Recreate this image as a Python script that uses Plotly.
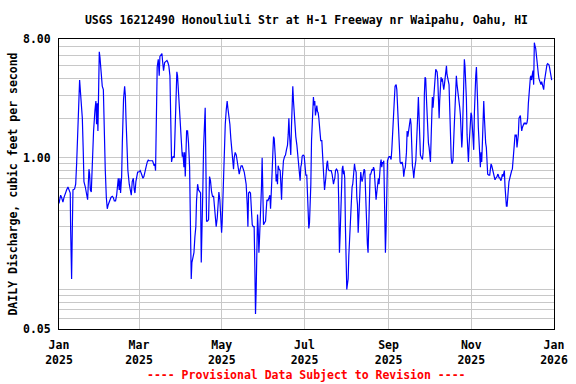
import math
import pandas as pd
import plotly.graph_objects as go

# ---- daily discharge readings (day offset from 2025-01-01, cubic feet per second) ----
days_jan_mar = [
    0.0, 1.2, 1.9, 2.9, 3.7, 4.6, 5.6, 6.6, 7.6, 8.3,
    8.6, 9.3, 9.8, 10.3, 11.5, 12.3, 13.0, 14.0, 14.7, 15.2,
    15.7, 16.4, 17.2, 17.9, 18.4, 19.4, 20.4, 21.1, 21.6, 22.1,
    22.6, 23.1, 23.8, 24.1, 24.8, 25.5, 26.5, 27.2, 27.7, 28.2,
    28.7, 29.2, 29.7, 30.2, 30.9, 31.9, 32.7, 33.1, 34.1, 34.9,
    35.6, 36.3, 37.3, 38.3, 39.3, 40.0, 40.8, 41.7, 42.5, 43.2,
    43.7, 44.4, 44.9, 45.4, 46.2, 46.7, 47.1, 47.6, 48.4, 48.9,
    49.4, 50.1, 50.8, 51.8, 52.6, 53.3, 54.0, 54.8, 55.5, 56.0,
    56.7, 57.2, 58.0, 58.9, 59.9, 60.9, 61.9, 62.6, 63.6, 64.3,
    65.1, 65.8, 66.5, 67.3, 68.0, 69.0, 70.2, 70.7, 71.2, 71.5,
    72.0,
]
cfs_jan_mar = [
    0.45, 0.52, 0.50, 0.46, 0.50, 0.54, 0.57, 0.60, 0.57, 0.54,
    0.28, 0.12, 0.28, 0.57, 0.58, 0.63, 0.90, 1.5, 2.8, 3.9,
    3.3, 2.8, 2.0, 1.1, 0.66, 0.60, 0.54, 0.48, 0.63, 0.82,
    0.75, 0.57, 0.55, 0.67, 1.05, 1.6, 2.3, 2.7, 1.8, 2.6,
    1.6, 5.1, 6.4, 5.8, 4.8, 3.5, 3.3, 2.0, 0.82, 0.50,
    0.41, 0.44, 0.47, 0.50, 0.51, 0.50, 0.47, 0.47, 0.52, 0.63,
    0.70, 0.57, 0.70, 0.54, 0.72, 1.3, 2.1, 2.8, 3.5, 3.0,
    2.0, 1.2, 0.80, 0.63, 0.57, 0.52, 0.66, 0.70, 0.57, 0.54,
    0.66, 0.70, 0.78, 0.78, 0.80, 0.75, 0.70, 0.72, 0.78, 0.86,
    0.93, 0.96, 0.95, 0.95, 0.95, 0.95, 0.87, 0.90, 0.80, 1.5,
    3.4,
]

days_mar_may = [
    72.4, 73.2, 73.9, 74.4, 75.2, 75.9, 76.4, 77.1, 77.9, 78.8,
    79.6, 80.3, 81.0, 81.8, 82.3, 83.0, 83.5, 84.2, 85.0, 85.7,
    86.5, 86.9, 87.4, 87.9, 88.7, 89.4, 90.1, 90.9, 91.4, 92.1,
    92.6, 93.1, 93.6, 94.1, 94.8, 95.5, 96.3, 97.0, 97.5, 98.0,
    98.7, 99.5, 100.2, 100.9, 101.4, 102.2, 102.9, 103.6, 104.4, 104.9,
    105.4, 106.1, 106.6, 107.3, 107.8, 108.3, 108.8, 109.5, 110.3, 111.0,
    111.7, 112.5, 113.2, 114.0, 114.7, 115.4, 115.9, 116.7, 117.4, 117.9,
    118.6, 119.4, 119.9, 120.3, 121.1, 121.8, 122.6, 123.3, 124.0, 124.5,
    125.3, 126.0, 126.7, 127.5, 128.2, 128.7, 129.2, 129.9, 130.7, 131.4,
    132.1, 132.9, 133.6, 134.3, 135.1, 135.8, 136.6, 137.3, 138.0, 138.8,
    139.3, 139.8, 140.5, 141.2, 142.0, 142.5, 143.2, 143.9, 144.4,
]
cfs_mar_may = [
    4.9, 5.6, 4.2, 5.9, 6.1, 6.2, 5.4, 4.6, 5.3, 5.4,
    5.5, 5.3, 5.0, 4.2, 1.9, 0.93, 1.0, 1.02, 1.0, 2.0,
    3.5, 4.5, 4.2, 3.5, 2.8, 2.1, 1.4, 1.02, 1.1, 0.85,
    1.1, 0.72, 1.1, 1.6, 1.6, 1.3, 0.85, 0.27, 0.12, 0.16,
    0.18, 0.19, 0.25, 0.30, 0.47, 0.63, 0.57, 0.55, 0.54, 0.16,
    0.25, 0.60, 1.2, 2.3, 2.4, 0.9, 0.33, 0.33, 0.34, 0.72,
    0.67, 0.55, 0.51, 0.51, 0.43, 0.33, 0.30, 0.35, 0.50, 0.55,
    0.48, 0.33, 0.27, 0.32, 0.60, 1.1, 1.8, 2.3, 2.7, 2.4,
    2.1, 1.8, 1.4, 1.15, 0.93, 0.82, 1.0, 1.1, 1.05, 0.95,
    0.82, 0.75, 0.82, 0.87, 0.87, 0.82, 0.78, 0.70, 0.63, 0.44,
    0.30, 0.54, 0.55, 0.54, 0.41, 0.31, 0.30, 0.30, 0.15,
]

days_may_aug = [
    144.9, 145.4, 145.9, 146.4, 146.9, 147.4, 147.9, 148.3, 148.8, 149.3,
    149.8, 150.3, 150.8, 151.5, 152.3, 152.8, 153.3, 154.0, 154.7, 155.5,
    156.0, 156.4, 156.9, 157.7, 158.2, 158.7, 159.2, 159.6, 160.1, 160.6,
    161.1, 161.6, 162.3, 163.1, 163.6, 164.1, 164.6, 165.0, 165.5, 166.3,
    167.0, 167.7, 168.5, 169.0, 169.5, 170.0, 170.5, 170.9, 171.4, 171.9,
    172.4, 172.9, 173.4, 173.9, 174.6, 175.4, 176.1, 176.6, 177.3, 177.8,
    178.3, 178.8, 179.3, 180.0, 180.8, 181.3, 182.0, 182.7, 183.2, 183.7,
    184.2, 184.7, 185.2, 185.7, 186.2, 186.7, 187.2, 187.6, 188.1, 188.6,
    189.1, 189.6, 190.1, 190.6, 191.1, 191.6, 192.3, 193.0, 193.8, 194.3,
    194.8, 195.3, 195.8, 196.2, 196.7, 197.5, 198.0, 198.5, 199.2, 199.9,
    200.7, 201.4, 201.9, 202.4, 202.9, 203.4, 203.9, 204.6, 205.3, 205.8,
    206.3, 206.8, 207.3, 207.8, 208.3, 208.8, 209.3, 209.8, 210.2, 210.7,
    211.2, 211.7, 212.2, 212.7, 213.2, 213.7, 214.4, 215.2,
]
cfs_may_aug = [
    0.065, 0.10, 0.25, 0.37, 0.29, 0.19, 0.25, 0.30, 0.44, 0.60,
    1.0, 0.54, 0.31, 0.32, 0.33, 0.40, 0.48, 0.47, 0.50, 0.52,
    0.41, 0.47, 0.67, 1.1, 1.45, 1.4, 1.2, 0.98, 0.66, 0.75,
    0.63, 0.87, 0.82, 0.80, 0.63, 0.48, 0.68, 0.82, 0.95, 1.02,
    1.05, 1.15, 1.25, 1.5, 2.0, 1.5, 1.3, 1.05, 1.7, 2.7,
    3.5, 2.7, 2.1, 1.8, 1.45, 1.25, 1.02, 0.87, 0.82, 0.67,
    0.85, 0.90, 1.03, 1.05, 1.03, 0.85, 0.74, 0.74, 0.47, 0.35,
    0.29, 0.32, 0.41, 0.63, 1.35, 2.0, 2.7, 2.9, 2.5, 2.7,
    2.1, 2.3, 2.5, 2.25, 2.2, 2.0, 1.5, 1.35, 1.35, 1.0,
    0.93, 0.70, 0.57, 0.61, 0.70, 0.90, 0.95, 0.82, 0.80, 0.80,
    0.80, 0.75, 0.67, 0.63, 0.67, 0.70, 0.80, 0.82, 0.80, 0.75,
    0.44, 0.19, 0.26, 0.44, 0.75, 0.82, 0.87, 0.75, 0.80, 0.70,
    0.30, 0.13, 0.10, 0.11, 0.12, 0.18, 0.27, 0.37,
]

days_aug_oct = [
    216.1, 216.6, 217.1, 217.9, 218.4, 219.1, 219.6, 220.1, 220.6, 221.1,
    221.5, 222.0, 222.5, 223.0, 223.5, 224.0, 224.5, 225.0, 225.5, 226.0,
    226.5, 227.0, 227.4, 227.9, 228.4, 228.9, 229.4, 229.9, 230.4, 230.9,
    231.4, 231.9, 232.4, 232.8, 233.3, 233.8, 234.3, 235.1, 235.5, 236.0,
    236.5, 237.0, 237.5, 238.0, 238.5, 239.0, 239.5, 240.0, 240.5, 240.7,
    241.2, 241.7, 242.2, 242.9, 243.4, 244.1, 244.9, 245.4, 245.9, 246.4,
    246.8, 247.3, 247.8, 248.6, 249.1, 249.5, 250.0, 250.5, 251.0, 251.5,
    252.3, 253.0, 253.7, 254.2, 254.7, 255.4, 256.2, 256.7, 257.2, 257.7,
    258.1, 258.6, 259.1, 259.6, 260.1, 260.6, 261.1, 261.6, 262.1, 262.6,
    263.1, 263.6, 264.0, 264.5, 265.0, 265.5, 266.0, 266.5, 267.0, 267.5,
    268.0, 268.5, 269.0, 269.4, 269.9, 270.4, 270.9, 271.4, 271.9, 272.4,
    272.9, 273.4, 273.9, 274.4, 274.9, 275.3, 275.8, 276.3, 276.8, 277.3,
    277.8, 278.3, 278.8, 279.3, 279.8, 280.3, 280.7, 281.2, 281.7, 282.2,
    282.7, 283.2, 283.7, 284.2, 284.7, 285.2, 285.7, 286.1, 286.6, 287.1,
    287.6, 288.1, 288.6, 289.2, 289.8, 290.5, 291.3,
]
cfs_aug_oct = [
    0.60, 0.63, 0.75, 0.90, 0.82, 0.78, 0.50, 0.44, 0.27, 0.33,
    0.44, 0.60, 0.78, 0.70, 0.66, 0.70, 0.78, 0.82, 0.80, 0.50,
    0.39, 0.27, 0.22, 0.19, 0.33, 0.52, 0.75, 0.75, 0.80, 0.82,
    0.80, 0.85, 0.82, 0.70, 0.60, 0.48, 0.54, 0.63, 0.70, 0.63,
    0.80, 0.90, 0.97, 0.85, 0.93, 0.90, 0.95, 0.47, 0.35, 0.19,
    0.29, 0.63, 0.95, 1.0, 1.02, 1.02, 0.97, 1.15, 1.4, 1.6,
    2.0, 2.8, 3.5, 3.6, 3.3, 2.6, 2.0, 1.4, 1.02, 0.93,
    0.90, 0.93, 0.85, 0.72, 0.80, 0.85, 1.1, 1.6, 1.45, 1.6,
    1.7, 1.9, 2.0, 1.8, 1.1, 0.87, 0.80, 0.70, 0.80, 0.90,
    0.95, 1.25, 1.9, 2.1, 2.9, 1.7, 1.15, 1.05, 1.02, 0.97,
    0.97, 1.1, 1.5, 3.0, 4.1, 4.0, 2.9, 2.0, 1.5, 1.3,
    1.2, 1.02, 0.93, 1.4, 2.1, 2.9, 2.4, 2.9, 3.6, 4.6,
    4.7, 4.6, 4.5, 3.9, 2.6, 2.0, 2.7, 3.6, 4.1, 3.8,
    4.0, 3.6, 3.3, 3.6, 4.1, 4.6, 5.0, 4.3, 4.1, 3.9,
    3.6, 2.4, 1.35, 1.0, 0.9, 0.95, 1.6,
]

days_oct_dec = [
    292.0, 292.5, 293.0, 293.5, 294.0, 294.5, 295.0, 295.5, 296.0, 296.5,
    297.0, 297.4, 297.9, 298.4, 298.9, 299.4, 299.9, 300.4, 300.9, 301.4,
    301.9, 302.4, 302.9, 303.3, 303.8, 304.3, 304.8, 305.3, 305.8, 306.3,
    306.8, 307.3, 307.8, 308.3, 308.7, 309.2, 309.7, 310.2, 310.7, 311.2,
    311.7, 312.2, 312.7, 313.2, 313.7, 314.2, 314.6, 315.1, 315.6, 316.1,
    316.9, 317.6, 318.1, 318.6, 319.1, 319.6, 320.0, 320.5, 321.0, 321.5,
    322.0, 322.5, 323.0, 323.5, 324.0, 324.5, 325.0, 325.5, 325.9, 326.4,
    326.9, 327.4, 327.9, 328.4, 328.9, 329.4, 329.9, 330.4, 330.9, 331.3,
    331.8, 332.3, 332.8, 333.3, 333.8, 334.3, 334.8, 335.3, 335.8, 336.3,
    336.8, 337.2, 337.7, 338.2, 338.7, 339.2, 339.7, 340.2, 340.7, 341.2,
    341.7, 342.2, 342.6, 343.1, 343.6, 344.1, 344.6, 345.1, 345.6, 346.1,
    346.6, 347.1, 347.6, 348.1, 348.5, 349.0, 349.5, 350.0, 350.5, 351.0,
    351.5, 352.0, 352.5, 353.0, 353.5, 353.9, 354.4, 354.9, 355.4, 355.9,
    356.4, 356.9, 357.4, 357.9, 358.4, 358.9, 359.4, 359.8, 360.3, 360.8,
    361.3, 361.8, 362.3, 362.8, 363.3,
]
cfs_oct_dec = [
    2.3, 3.6, 4.2, 3.6, 3.3, 3.0, 2.8, 2.4, 2.1, 1.45,
    1.2, 1.4, 2.0, 3.3, 5.6, 4.9, 3.8, 2.8, 1.5, 1.1,
    0.93, 1.25, 1.5, 2.0, 2.2, 2.1, 1.8, 1.5, 1.15, 2.2,
    3.6, 4.2, 4.9, 3.9, 2.6, 1.7, 1.2, 1.1, 0.85, 1.1,
    0.93, 1.3, 2.0, 2.7, 2.0, 1.4, 1.3, 1.2, 0.97, 0.75,
    0.74, 0.74, 0.82, 0.90, 0.87, 0.82, 0.80, 0.78, 0.72, 0.68,
    0.70, 0.71, 0.72, 0.75, 0.74, 0.70, 0.71, 0.68, 0.67, 0.70,
    0.75, 0.72, 0.78, 0.80, 0.60, 0.50, 0.43, 0.43, 0.57, 0.57,
    0.66, 0.70, 0.72, 0.78, 0.80, 0.82, 0.98, 1.05, 1.3, 1.5,
    1.45, 1.5, 1.2, 1.3, 1.5, 2.0, 2.1, 2.1, 1.8, 1.6,
    1.7, 1.8, 1.8, 1.85, 1.8, 1.85, 1.8, 1.85, 2.0, 2.6,
    3.3, 4.0, 4.1, 4.2, 3.9, 4.3, 4.6, 3.6, 7.5, 7.1,
    6.8, 5.8, 5.1, 4.6, 4.3, 4.0, 3.9, 3.8, 3.6, 3.8,
    3.6, 3.5, 3.3, 3.8, 4.2, 4.6, 5.0, 5.1, 5.2, 5.1,
    5.1, 4.8, 4.3, 4.1, 3.9,
]

# ---- axis labels ----
month_ticks = ["2025-01-01", "2025-03-01", "2025-05-01", "2025-07-01",
               "2025-09-01", "2025-11-01", "2026-01-01"]
month_labels = ["<b>Jan</b><br><b>2025</b>", "<b>Mar</b><br><b>2025</b>",
                "<b>May</b><br><b>2025</b>", "<b>Jul</b><br><b>2025</b>",
                "<b>Sep</b><br><b>2025</b>", "<b>Nov</b><br><b>2025</b>",
                "<b>Jan</b><br><b>2026</b>"]
y_tick_vals = [0.05, 1.0, 8.0]
y_tick_text = ["<b>0.05</b>", "<b>1.00</b>", "<b>8.00</b>"]
y_grid_vals = [0.06, 0.07, 0.08, 0.09, 0.1, 0.2, 0.3, 0.4, 0.5, 0.6, 0.7,
               0.8, 0.9, 1.0, 2, 3, 4, 5, 6, 7]

title_text = "USGS 16212490 Honouliuli Str at H-1 Freeway nr Waipahu, Oahu, HI"
y_title = "DAILY Discharge, cubic feet per second"
note_text = "---- Provisional Data Subject to Revision ----"

segments = [
    (days_jan_mar, cfs_jan_mar),
    (days_mar_may, cfs_mar_may),
    (days_may_aug, cfs_may_aug),
    (days_aug_oct, cfs_aug_oct),
    (days_oct_dec, cfs_oct_dec),
]
days, cfs = [], []
for i, (d, v) in enumerate(segments):
    assert len(d) == len(v), (i, len(d), len(v))
    days += d
    cfs += v

start = pd.Timestamp("2025-01-01")
dates = start + pd.to_timedelta(days, unit="D")

FONT = dict(family="DejaVu Sans Mono", size=11.5, color="black")
GRID = "#c8c8c8"

fig = go.Figure(
    go.Scatter(x=dates, y=cfs, mode="lines",
               line=dict(color="#0000ff", width=1.2), hoverinfo="skip")
)

fig.update_layout(
    width=576, height=384,
    margin=dict(l=59, r=22, t=39, b=55, autoexpand=False),
    paper_bgcolor="white", plot_bgcolor="white",
    showlegend=False,
    title=dict(text="<b>" + title_text + "</b>", x=0.5, xref="paper",
               xanchor="center", y=1 - 20 / 384, yref="container",
               yanchor="middle", font=FONT),
    annotations=[
        dict(text="<b>" + note_text + "</b>", xref="paper", yref="paper",
             x=0.5, y=-0.159, xanchor="center", yanchor="middle",
             showarrow=False,
             font=dict(family="DejaVu Sans Mono", size=11.5, color="#ff0000")),
    ],
)

fig.update_xaxes(
    type="date", range=[month_ticks[0], month_ticks[-1]],
    tickmode="array", tickvals=month_ticks, ticktext=month_labels,
    showgrid=True, gridcolor=GRID, gridwidth=1,
    showline=True, linecolor="black", linewidth=1, mirror=True,
    ticks="outside", ticklen=5, tickcolor="rgba(0,0,0,0)",
    tickfont=FONT, zeroline=False, automargin=False,
)

fig.update_yaxes(
    type="log", range=[math.log10(y_tick_vals[0]), math.log10(y_tick_vals[-1])],
    tickmode="array", tickvals=y_tick_vals, ticktext=y_tick_text,
    showgrid=False,
    minor=dict(tickmode="array", tickvals=y_grid_vals, showgrid=True,
               gridcolor=GRID, gridwidth=1, ticks=""),
    showline=True, linecolor="black", linewidth=1, mirror=True,
    ticks="outside", ticklen=5, tickcolor="rgba(0,0,0,0)",
    tickfont=FONT, zeroline=False, automargin=False,
    title=dict(text="<b>" + y_title + "</b>", font=FONT, standoff=2),
)

fig.write_html("out.html", config={"displayModeBar": False},
               post_script="document.body.style.margin='0px';")
